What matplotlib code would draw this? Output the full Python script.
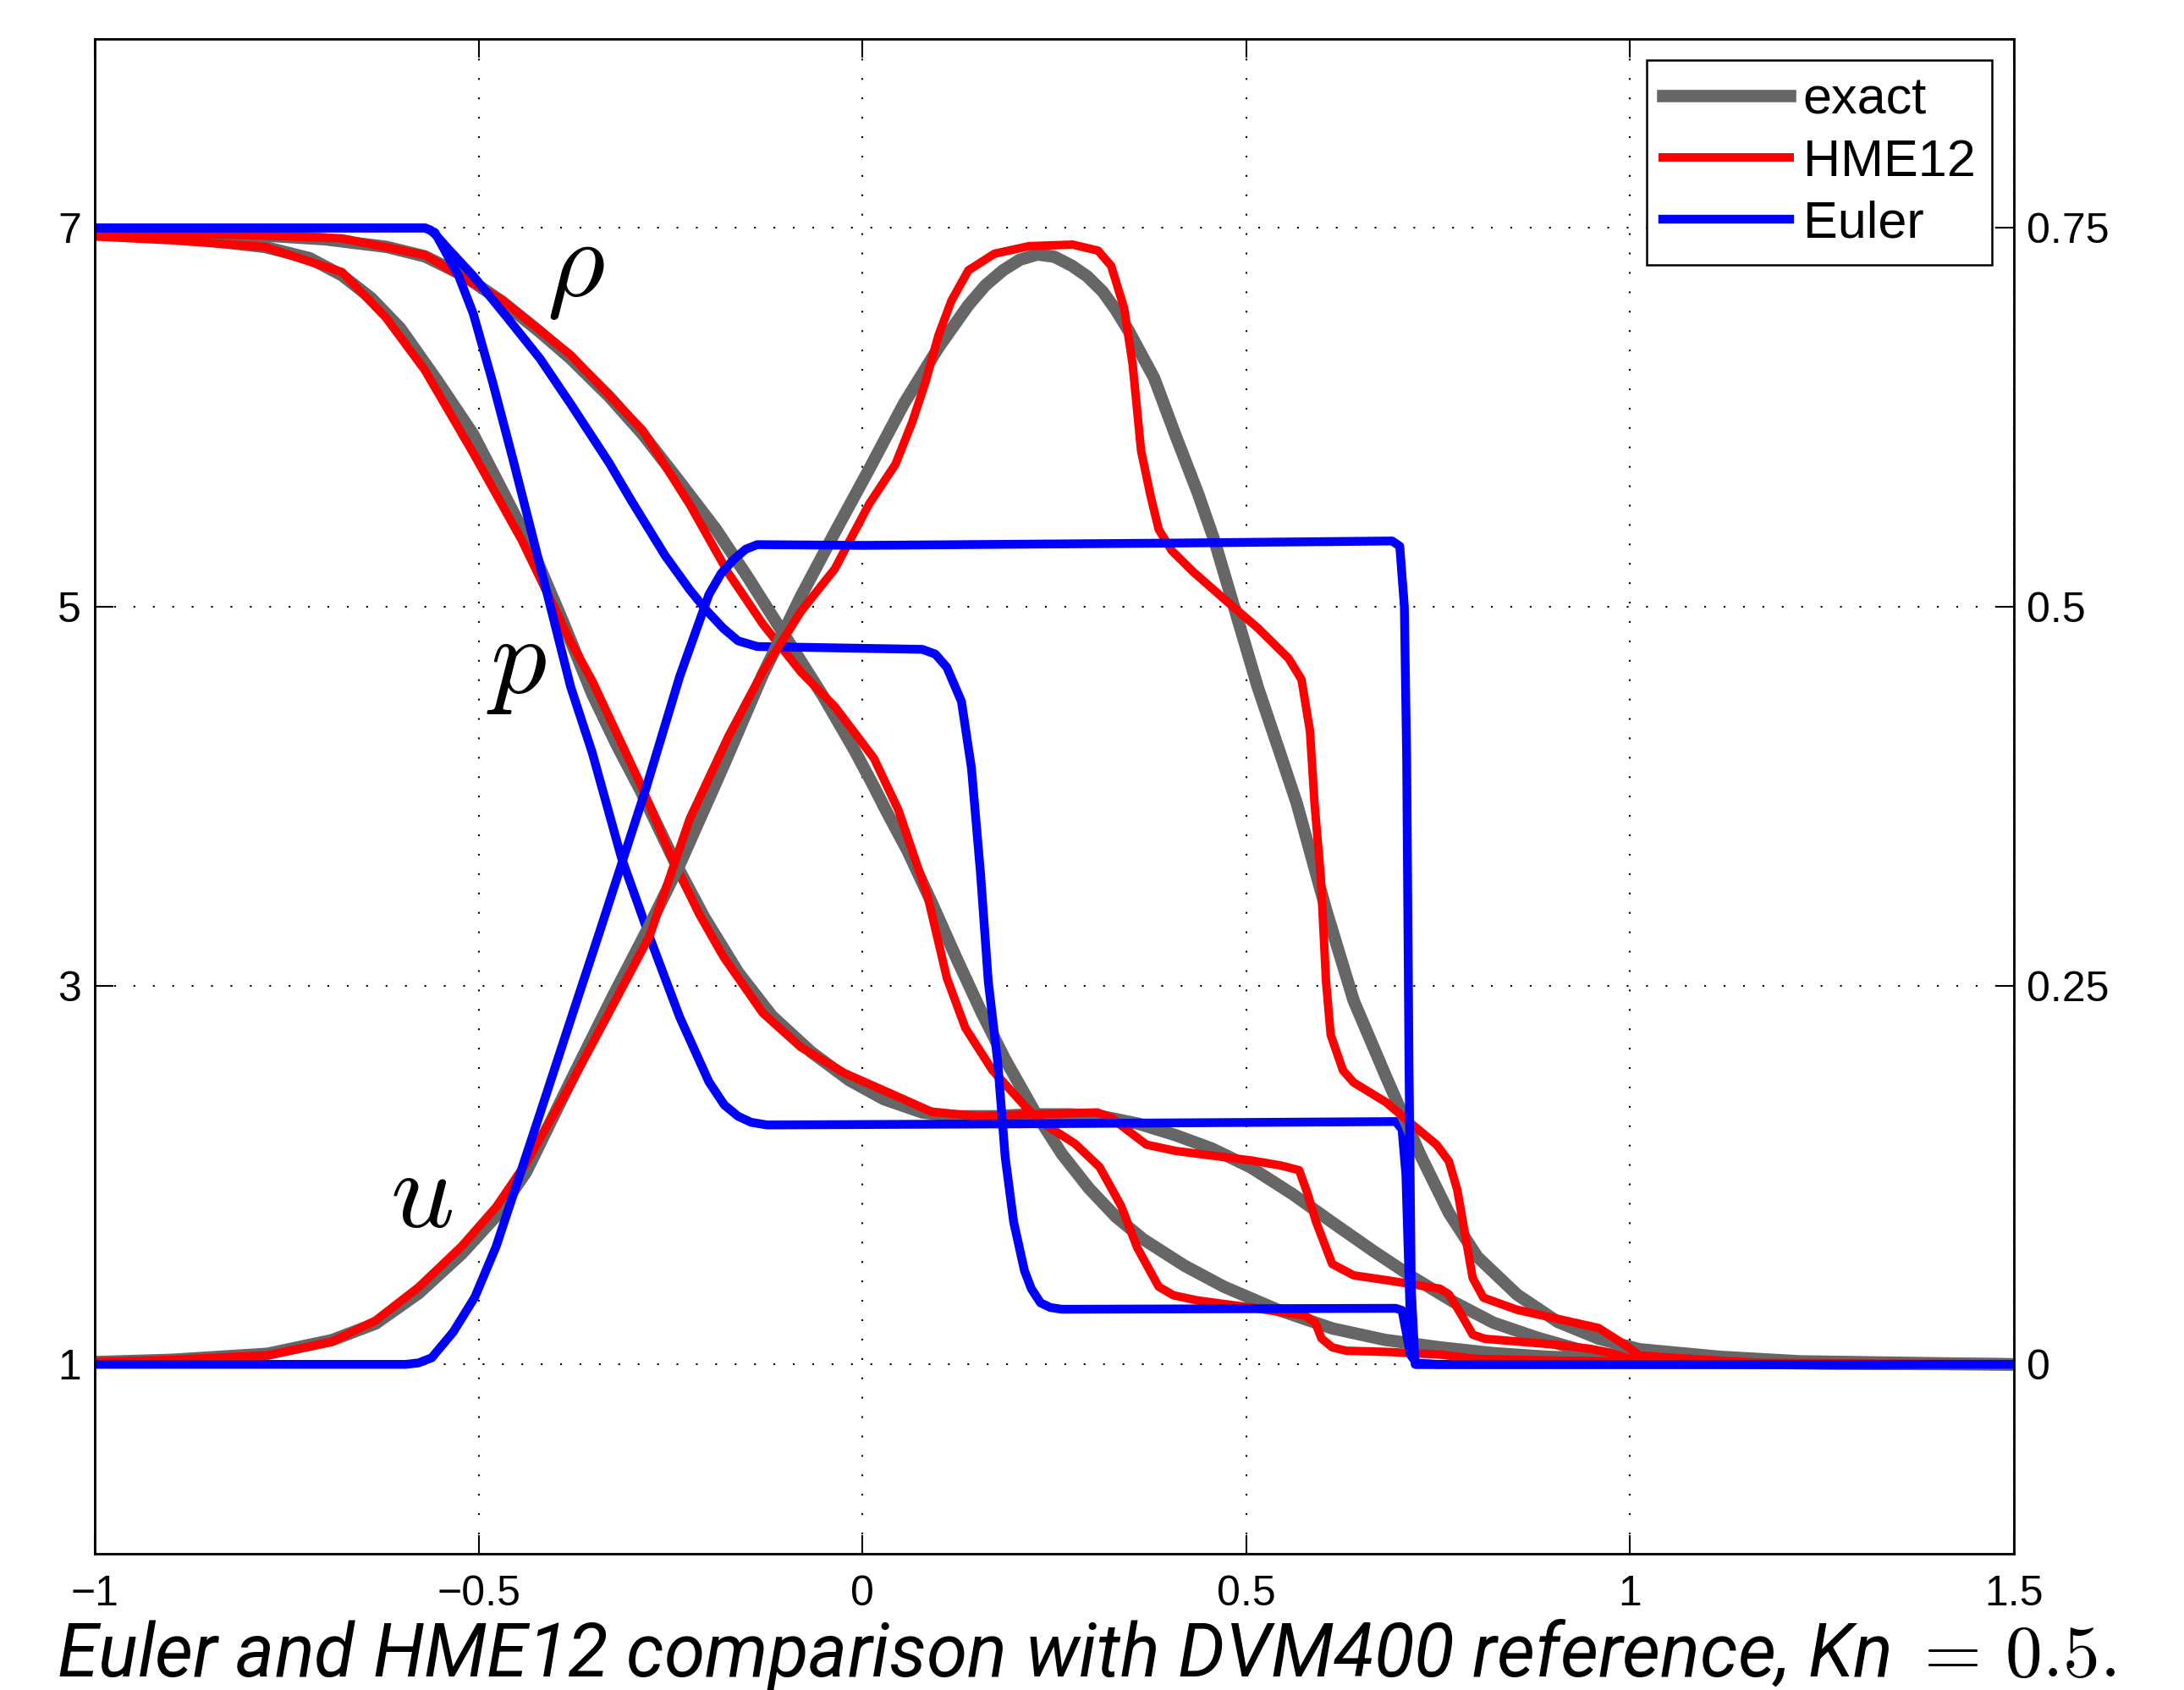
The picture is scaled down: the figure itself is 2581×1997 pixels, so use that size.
import numpy as np
import matplotlib
matplotlib.use('Agg')
import matplotlib.pyplot as plt

plt.rcParams['mathtext.fontset'] = 'cm'
plt.rcParams['font.family'] = 'Liberation Sans'

# exact (DVM400) density
x_rho_ex = [-1.0, -0.9, -0.8, -0.7, -0.62, -0.57, -0.52, -0.469, -0.42, -0.38, -0.33, -0.286,
            -0.24, -0.191, -0.15, -0.10, -0.05, -0.01, 0.015, 0.03, 0.059, 0.09, 0.123, 0.155,
            0.186, 0.225, 0.26, 0.295, 0.33, 0.366, 0.42, 0.471, 0.54, 0.612, 0.68, 0.752,
            0.82, 0.893, 1.0, 1.1, 1.25, 1.5]
rho_ex = [6.985, 6.975, 6.965, 6.94, 6.90, 6.85, 6.75, 6.61, 6.45, 6.31, 6.11, 5.91,
          5.67, 5.41, 5.16, 4.84, 4.52, 4.24, 4.05, 3.93, 3.71, 3.44, 3.14, 2.86,
          2.61, 2.33, 2.11, 1.93, 1.78, 1.66, 1.52, 1.41, 1.29, 1.19, 1.13, 1.09,
          1.06, 1.04, 1.025, 1.015, 1.006, 1.0]

# exact pressure
x_p_ex = [-1.0, -0.9, -0.779, -0.72, -0.678, -0.64, -0.602, -0.555, -0.507, -0.47, -0.431,
          -0.39, -0.352, -0.32, -0.289, -0.244, -0.206, -0.162, -0.118, -0.067, -0.017,
          0.028, 0.078, 0.123, 0.173, 0.218, 0.27, 0.312, 0.36, 0.408, 0.455, 0.506,
          0.56, 0.612, 0.665, 0.717, 0.77, 0.822, 0.88, 0.932, 1.0, 1.1, 1.25, 1.5]
p_ex = [6.98, 6.955, 6.90, 6.84, 6.75, 6.63, 6.47, 6.20, 5.91, 5.62, 5.31,
        4.92, 4.54, 4.27, 4.03, 3.65, 3.36, 3.07, 2.84, 2.65, 2.50,
        2.40, 2.33, 2.31, 2.31, 2.32, 2.32, 2.31, 2.27, 2.21, 2.14, 2.04,
        1.90, 1.75, 1.60, 1.46, 1.33, 1.22, 1.14, 1.08, 1.035, 1.012, 1.004, 1.0]

# exact velocity (right axis)
x_u_ex = [-1.0, -0.9, -0.775, -0.691, -0.634, -0.578, -0.522, -0.477, -0.438, -0.381, -0.325,
          -0.28, -0.238, -0.181, -0.13, -0.08, -0.036, 0.009, 0.054, 0.099, 0.138, 0.16,
          0.183, 0.205, 0.228, 0.25, 0.273, 0.293, 0.313, 0.33, 0.347, 0.38, 0.408, 0.437,
          0.459, 0.487, 0.515, 0.543, 0.566, 0.604, 0.64, 0.682, 0.727, 0.764, 0.801,
          0.853, 0.906, 0.959, 1.012, 1.117, 1.222, 1.5]
u_ex = [0.0015, 0.003, 0.007, 0.016, 0.027, 0.047, 0.073, 0.098, 0.127, 0.186, 0.243,
        0.287, 0.330, 0.395, 0.455, 0.507, 0.549, 0.591, 0.634, 0.671, 0.699, 0.712,
        0.722, 0.729, 0.7325, 0.731, 0.725, 0.718, 0.708, 0.696, 0.682, 0.651, 0.613, 0.575,
        0.543, 0.495, 0.447, 0.405, 0.370, 0.300, 0.240, 0.19, 0.138, 0.100, 0.071,
        0.046, 0.028, 0.017, 0.010, 0.005, 0.002, 0.0]

# HME12 density
x_rho_hme = [-1.0, -0.9, -0.8, -0.678, -0.57, -0.469, -0.38, -0.286, -0.225, -0.175, -0.13,
             -0.08, -0.036, 0.015, 0.047, 0.085, 0.11, 0.134, 0.169, 0.211, 0.23, 0.277,
             0.309, 0.337, 0.358, 0.386, 0.405, 0.436, 0.506, 0.577, 0.59, 0.598, 0.612,
             0.63, 0.682, 0.752, 0.8, 0.9, 1.1, 1.5]
rho_hme = [6.98, 6.972, 6.962, 6.945, 6.857, 6.618, 6.329, 5.93, 5.54, 5.18, 4.91,
           4.655, 4.473, 4.20, 3.926, 3.471, 3.04, 2.777, 2.555, 2.367, 2.287, 2.165,
           2.042, 1.837, 1.616, 1.41, 1.365, 1.338, 1.30, 1.257, 1.22, 1.137, 1.09,
           1.072, 1.066, 1.052, 1.029, 1.02, 1.01, 1.0]

# HME12 pressure
x_p_hme = [-1.0, -0.9, -0.779, -0.678, -0.621, -0.57, -0.507, -0.444, -0.38, -0.352, -0.289,
           -0.251, -0.213, -0.181, -0.13, -0.08, -0.023, 0.028, 0.091, 0.154, 0.218, 0.306,
           0.325, 0.344, 0.37, 0.408, 0.46, 0.506, 0.545, 0.569, 0.58, 0.591, 0.612, 0.64,
           0.682, 0.752, 0.764, 0.78, 0.795, 0.811, 0.906, 0.948, 0.975, 1.0, 1.064, 1.2,
           1.5]
p_hme = [6.955, 6.935, 6.90, 6.767, 6.528, 6.249, 5.811, 5.353, 4.815, 4.609, 4.063,
         3.699, 3.38, 3.152, 2.856, 2.674, 2.537, 2.446, 2.332, 2.31, 2.32, 2.33,
         2.30, 2.24, 2.16, 2.127, 2.10, 2.077, 2.05, 2.025, 1.90, 1.752, 1.53, 1.47,
         1.445, 1.40, 1.37, 1.264, 1.157, 1.135, 1.103, 1.082, 1.06, 1.029, 1.018, 1.005,
         1.0]

# HME12 velocity
x_u_hme = [-1.0, -0.9, -0.775, -0.691, -0.634, -0.578, -0.522, -0.477, -0.438, -0.381, -0.325,
           -0.277, -0.225, -0.175, -0.13, -0.08, -0.036, 0.009, 0.043, 0.065, 0.082, 0.099,
           0.116, 0.138, 0.172, 0.217, 0.274, 0.307, 0.324, 0.341, 0.352, 0.363, 0.375,
           0.386, 0.403, 0.431, 0.476, 0.515, 0.555, 0.572, 0.583, 0.589, 0.597, 0.604,
           0.61, 0.626, 0.64, 0.682, 0.717, 0.748, 0.764, 0.775, 0.785, 0.795, 0.809,
           0.853, 0.906, 0.959, 0.99, 1.012, 1.064, 1.17, 1.5]
u_hme = [0.0015, 0.003, 0.006, 0.015, 0.029, 0.051, 0.078, 0.104, 0.133, 0.184, 0.237,
         0.283, 0.36, 0.414, 0.457, 0.497, 0.525, 0.568, 0.594, 0.622, 0.648, 0.679,
         0.702, 0.722, 0.733, 0.738, 0.739, 0.735, 0.725, 0.697, 0.660, 0.603, 0.574,
         0.551, 0.537, 0.523, 0.503, 0.486, 0.466, 0.452, 0.418, 0.370, 0.3225, 0.2525,
         0.2175, 0.194, 0.186, 0.173, 0.158, 0.145, 0.134, 0.115, 0.086, 0.057, 0.044,
         0.036, 0.030, 0.024, 0.014, 0.006, 0.004, 0.001, 0.0]

# Euler density
x_rho_eu = [-1.0, -0.57, -0.563, -0.555, -0.539, -0.507, -0.463, -0.42, -0.38, -0.33, -0.301,
            -0.257, -0.225, -0.203, -0.181, -0.162, -0.137, 0.078, 0.095, 0.11, 0.129, 0.142,
            0.154, 0.164, 0.176, 0.186, 0.197, 0.211, 0.22, 0.232, 0.245, 0.26, 0.695, 0.703,
            0.708, 0.714, 0.722, 0.75, 1.5]
rho_eu = [7.0, 7.0, 6.99, 6.96, 6.887, 6.747, 6.528, 6.31, 6.07, 5.76, 5.56,
          5.27, 5.09, 4.98, 4.885, 4.82, 4.79, 4.775, 4.75, 4.68, 4.50, 4.15,
          3.585, 3.02, 2.606, 2.094, 1.752, 1.496, 1.40, 1.325, 1.30, 1.291, 1.296, 1.285,
          1.178, 1.05, 1.007, 1.0, 1.0]

# Euler pressure
x_p_eu = [-1.0, -0.57, -0.557, -0.526, -0.507, -0.482, -0.456, -0.431, -0.406, -0.38, -0.352,
          -0.314, -0.276, -0.238, -0.2, -0.18, -0.162, -0.145, -0.124, 0.2, 0.695, 0.703,
          0.708, 0.711, 0.714, 0.718, 0.722, 1.5]
p_eu = [7.0, 7.0, 6.976, 6.747, 6.548, 6.19, 5.79, 5.393, 4.994, 4.576, 4.23,
        3.676, 3.243, 2.833, 2.492, 2.37, 2.31, 2.278, 2.264, 2.27, 2.282, 2.24,
        2.0, 1.6, 1.2, 1.03, 1.0, 1.0]

# Euler velocity
x_u_eu = [-1.0, -0.595, -0.578, -0.561, -0.533, -0.505, -0.477, -0.449, -0.421, -0.381, -0.342,
          -0.282, -0.238, -0.2, -0.184, -0.168, -0.152, -0.137, 0.0, 0.4, 0.69, 0.7, 0.706,
          0.709, 0.712, 0.715, 0.72, 1.5]
u_eu = [0.0, 0.0, 0.001, 0.0044, 0.0214, 0.0443, 0.078, 0.121, 0.164, 0.226, 0.286,
        0.38, 0.454, 0.508, 0.522, 0.531, 0.538, 0.541, 0.5405, 0.542, 0.5434, 0.540, 0.50,
        0.40, 0.20, 0.05, 0.0, 0.0]

xticks = [-1, -0.5, 0, 0.5, 1, 1.5]
xtick_labels = ['\u22121', '\u22120.5', '0', '0.5', '1', '1.5']
yticks = [1, 3, 5, 7]
ytick_labels = ['1', '3', '5', '7']
uticks = [0, 0.25, 0.5, 0.75]
utick_labels = ['0', '0.25', '0.5', '0.75']

gray = '#666666'
lw_ex, lw_hme, lw_eu = 10.5, 7.2, 7.5

fig = plt.figure(figsize=(25.81, 19.97), dpi=100)
ax = fig.add_axes([0.0434, 0.0806, 0.8787, 0.8966])
ax2 = ax.twinx()

l_ex, = ax.plot(x_rho_ex, rho_ex, color=gray, lw=lw_ex, solid_joinstyle='round')
ax.plot(x_p_ex, p_ex, color=gray, lw=lw_ex, solid_joinstyle='round')
l_hme, = ax.plot(x_rho_hme, rho_hme, color='red', lw=lw_hme, solid_joinstyle='round')
ax.plot(x_p_hme, p_hme, color='red', lw=lw_hme, solid_joinstyle='round')
l_eu, = ax.plot(x_rho_eu, rho_eu, color='blue', lw=lw_eu, solid_joinstyle='round')
ax.plot(x_p_eu, p_eu, color='blue', lw=lw_eu, solid_joinstyle='round')

ax2.plot(x_u_ex, u_ex, color=gray, lw=lw_ex, solid_joinstyle='round')
ax2.plot(x_u_hme, u_hme, color='red', lw=lw_hme, solid_joinstyle='round')
ax2.plot(x_u_eu, u_eu, color='blue', lw=lw_eu, solid_joinstyle='round')

ax.set_xlim(-1, 1.5)
ax.set_ylim(0, 8)
ax2.set_ylim(-0.125, 0.875)

ax.set_xticks(xticks)
ax.set_xticklabels(xtick_labels)
ax.set_yticks(yticks)
ax.set_yticklabels(ytick_labels)
ax2.set_yticks(uticks)
ax2.set_yticklabels(utick_labels)

ax.grid(True, color='k', linestyle=(0, (1, 10)), linewidth=1.5)
ax.tick_params(axis='x', direction='in', length=16, width=1.5, top=True, labelsize=36, pad=18)
ax.tick_params(axis='y', direction='in', length=16, width=1.5, right=False, labelsize=36, pad=11.5)
ax2.tick_params(axis='y', direction='in', length=16, width=1.5, left=False, labelsize=36, pad=11)
for a in (ax, ax2):
    for s in a.spines.values():
        s.set_linewidth(1.8)

# curve labels
ax.text(-0.374, 6.78, r'$\rho$', fontsize=95, ha='center', va='center')
ax.text(-0.45, 4.70, r'$p$', fontsize=95, ha='center', va='center')
ax.text(-0.574, 1.88, r'$u$', fontsize=95, ha='center', va='center')

leg = ax2.legend([l_ex, l_hme, l_eu], ['exact', 'HME12', 'Euler'], loc='upper right',
                 fontsize=44, fancybox=False, framealpha=1, edgecolor='k',
                 borderaxespad=0.42, handlelength=2.45, handletextpad=0.26,
                 labelspacing=0.26, borderpad=0.32)
leg.get_frame().set_linewidth(1.8)

fig.text(0.026, 0.008, r'Euler and HME12 comparison with DVM400 reference, Kn $=\,0.5.$',
         fontsize=63, style='italic', family='Roboto', ha='left', va='baseline')

fig.savefig('out.png', dpi=100)
